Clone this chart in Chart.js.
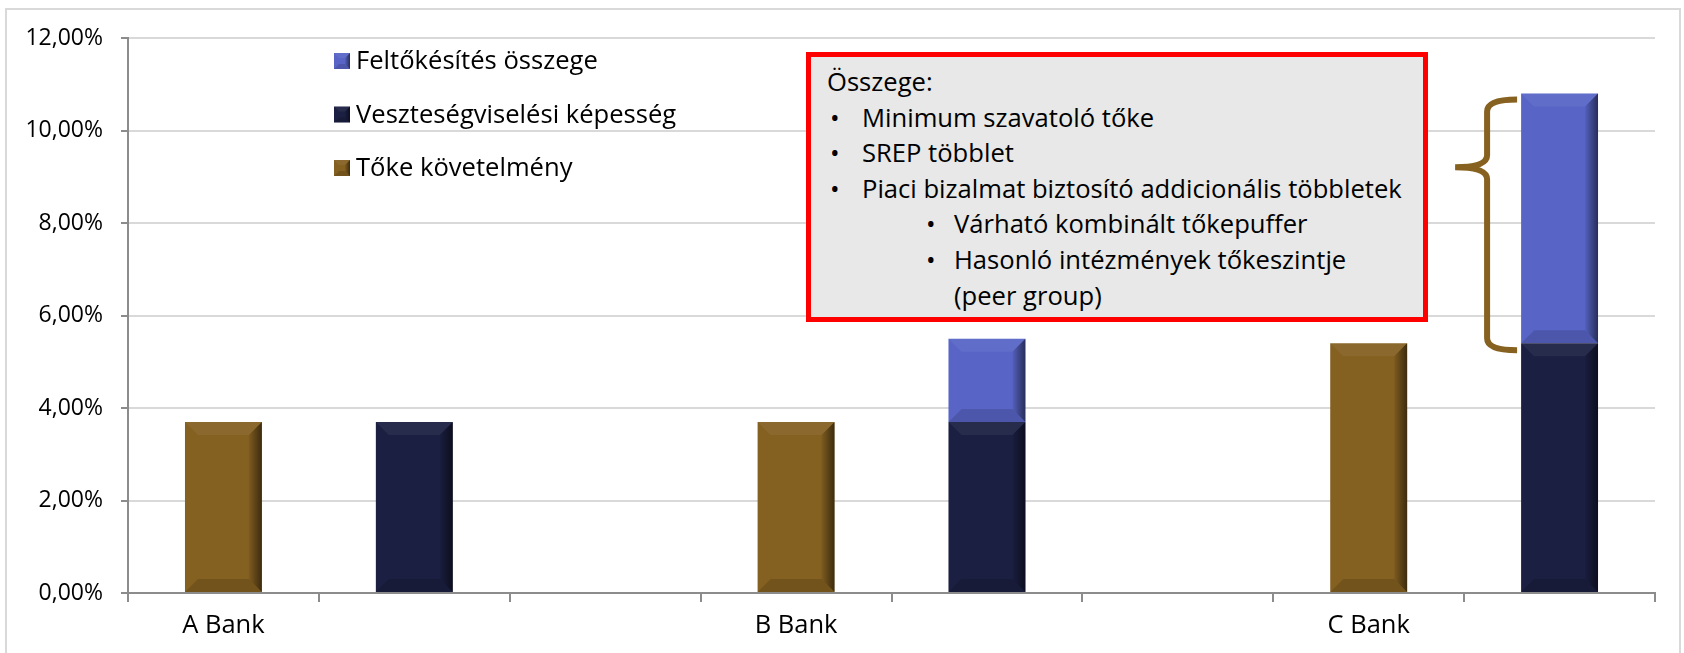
<!DOCTYPE html>
<html>
<head>
<meta charset="utf-8">
<script src="https://cdn.jsdelivr.net/npm/chart.js@4.4.1/dist/chart.umd.min.js"></script>
<style>
  html, body { margin: 0; padding: 0; background: #fff; }
  #wrap { position: relative; width: 1684px; height: 653px; overflow: hidden; font-family: 'Open Sans', sans-serif; }
  #frame { position: absolute; left: 5px; top: 8px; width: 1676px; height: 700px; border: 2px solid #d9d9d9; box-sizing: border-box; pointer-events: none; }
  #note { position: absolute; left: 806px; top: 52px; width: 622px; height: 270px; box-sizing: border-box;
          border: 5px solid #ff0000; background: #e7e8e7; padding-top: 7px; font-size: 25.6px; line-height: 35.6px; color: #000; }
  #note div { position: relative; height: 35.6px; white-space: nowrap; }
  #note .b { position: absolute; }
</style>
</head>
<body>
<div id="wrap">
  <canvas id="chart" width="1684" height="653"></canvas>
  <div id="frame"></div>
  <div id="note">
    <div><span class="b" style="left:16px">Összege:</span></div>
    <div><span class="b" style="left:19px">•</span><span class="b" style="left:51px">Minimum szavatoló tőke</span></div>
    <div><span class="b" style="left:19px">•</span><span class="b" style="left:51px">SREP többlet</span></div>
    <div><span class="b" style="left:19px">•</span><span class="b" style="left:51px">Piaci bizalmat biztosító addicionális többletek</span></div>
    <div><span class="b" style="left:115px">•</span><span class="b" style="left:143px">Várható kombinált tőkepuffer</span></div>
    <div><span class="b" style="left:115px">•</span><span class="b" style="left:143px">Hasonló intézmények tőkeszintje</span></div>
    <div><span class="b" style="left:143px">(peer group)</span></div>
  </div>
</div>
<script>
// ── data ──
const categories = ['A Bank', '', '', 'B Bank', '', '', 'C Bank', ''];
const tokeKovetelmeny = [3.7, null, null, 3.7, null, null, 5.4, null];
const vesztesegviselesi = [null, 3.7, null, null, 3.7, null, null, 5.4];
const feltokesites = [null, null, null, null, 1.8, null, null, 5.4];
const yTickValues = [0, 2, 4, 6, 8, 10, 12];

const colors = {
  gold:  '#846021',
  navy:  '#1b1f41',
  blue:  '#5865c6',
  grid:  '#d9d9d9',
  axis:  '#8c8c8c',
  brace: '#86611f',
};

const FONT = "'Open Sans', sans-serif";

// bevelled look of the bars (light top, dark right / bottom)
function bevel(ctx, l, t, r, btm, size) {
  const b = Math.min(size, (btm - t) / 3, (r - l) / 3);
  ctx.save();
  ctx.fillStyle = 'rgba(255,255,255,0.06)';
  ctx.beginPath();
  ctx.moveTo(l, t); ctx.lineTo(r, t); ctx.lineTo(r - b, t + b); ctx.lineTo(l + b, t + b); ctx.closePath();
  ctx.fill();
  ctx.fillStyle = 'rgba(0,0,0,0.13)';
  ctx.beginPath();
  ctx.moveTo(l, btm); ctx.lineTo(r, btm); ctx.lineTo(r - b, btm - b); ctx.lineTo(l + b, btm - b); ctx.closePath();
  ctx.fill();
  const g = ctx.createLinearGradient(r - b, 0, r, 0);
  g.addColorStop(0, 'rgba(0,0,0,0.05)');
  g.addColorStop(1, 'rgba(0,0,0,0.55)');
  ctx.fillStyle = g;
  ctx.beginPath();
  ctx.moveTo(r, t); ctx.lineTo(r, btm); ctx.lineTo(r - b, btm - b); ctx.lineTo(r - b, t + b); ctx.closePath();
  ctx.fill();
  ctx.restore();
}

const barBevel = {
  id: 'barBevel',
  afterDatasetsDraw(chart) {
    const ctx = chart.ctx;
    chart.data.datasets.forEach((ds, i) => {
      chart.getDatasetMeta(i).data.forEach((el, j) => {
        if (ds.data[j] == null) return;
        const p = el.getProps(['x', 'y', 'base', 'width'], true);
        const l = p.x - p.width / 2, r = p.x + p.width / 2;
        bevel(ctx, l, Math.min(p.y, p.base), r, Math.max(p.y, p.base), 13);
      });
    });
  }
};

// legend inside the plot, top-left, stacked order (top series first)
const innerLegend = {
  id: 'innerLegend',
  afterDraw(chart) {
    const ctx = chart.ctx;
    const items = chart.data.datasets.slice().reverse();
    ctx.save();
    ctx.font = '25.6px ' + FONT;
    ctx.textBaseline = 'middle';
    items.forEach((ds, k) => {
      const cy = 61 + k * 53.5;
      ctx.fillStyle = ds.backgroundColor;
      ctx.fillRect(334, cy - 8, 16, 16);
      bevel(ctx, 334, cy - 8, 350, cy + 8, 5);
      ctx.fillStyle = '#000';
      ctx.fillText(ds.label, 356, cy + 1);
    });
    ctx.restore();
  }
};

// curly brace next to the last stacked bar
const brace = {
  id: 'brace',
  afterDatasetsDraw(chart) {
    const ctx = chart.ctx;
    const y = chart.scales.y;
    const last = categories.length - 1;
    const el = chart.getDatasetMeta(2).data[last];
    const barLeft = el.x - el.width / 2;
    const top = y.getPixelForValue(vesztesegviselesi[last] + feltokesites[last]) + 6;
    const bottom = y.getPixelForValue(vesztesegviselesi[last]) + 7;
    const xEnd = barLeft - 4, xv = barLeft - 34, xTip = barLeft - 66;
    const tip = top + (bottom - top) * 0.27;
    const rr = 12;
    ctx.save();
    ctx.strokeStyle = colors.brace;
    ctx.lineWidth = 6;
    ctx.beginPath();
    ctx.moveTo(xEnd, top);
    ctx.quadraticCurveTo(xv, top, xv, top + rr);
    ctx.lineTo(xv, tip - rr);
    ctx.quadraticCurveTo(xv, tip, xTip, tip);
    ctx.quadraticCurveTo(xv, tip, xv, tip + rr);
    ctx.lineTo(xv, bottom - rr);
    ctx.quadraticCurveTo(xv, bottom, xEnd, bottom);
    ctx.stroke();
    ctx.restore();
  }
};

new Chart(document.getElementById('chart'), {
  type: 'bar',
  data: {
    labels: categories,
    datasets: [{
      label: 'Tőke követelmény',
      data: tokeKovetelmeny,
      backgroundColor: colors.gold,
    }, {
      label: 'Veszteségviselési képesség',
      data: vesztesegviselesi,
      backgroundColor: colors.navy,
    }, {
      label: 'Feltőkésítés összege',
      data: feltokesites,
      backgroundColor: colors.blue,
    }]
  },
  options: {
    responsive: false,
    animation: false,
    events: [],
    layout: { padding: { left: 0, right: 29, top: 38, bottom: 0 } },
    datasets: { bar: { categoryPercentage: 1, barPercentage: 0.403, borderWidth: 0 } },
    plugins: { legend: { display: false }, tooltip: { enabled: false } },
    scales: {
      x: {
        stacked: true,
        afterFit: s => { s.height = 60; },
        grid: { offset: true, drawOnChartArea: false, color: colors.axis, tickColor: colors.axis, tickLength: 9, lineWidth: 2 },
        border: { color: colors.axis, width: 2 },
        ticks: { autoSkip: false, maxRotation: 0, color: '#000', padding: 8, font: { family: FONT, size: 25.5 } }
      },
      y: {
        stacked: true,
        min: 0, max: 12,
        afterFit: s => { s.width = 128; },
        afterBuildTicks: s => { s.ticks = yTickValues.map(v => ({ value: v })); },
        grid: { color: colors.grid, tickColor: colors.axis, tickLength: 7, lineWidth: 2 },
        border: { color: colors.axis, width: 2 },
        ticks: {
          color: '#000', padding: 18, font: { family: FONT, size: 23 },
          callback: v => v.toFixed(2).replace('.', ',') + '%'
        }
      }
    }
  },
  plugins: [barBevel, brace, innerLegend]
});
</script>
</body>
</html>
